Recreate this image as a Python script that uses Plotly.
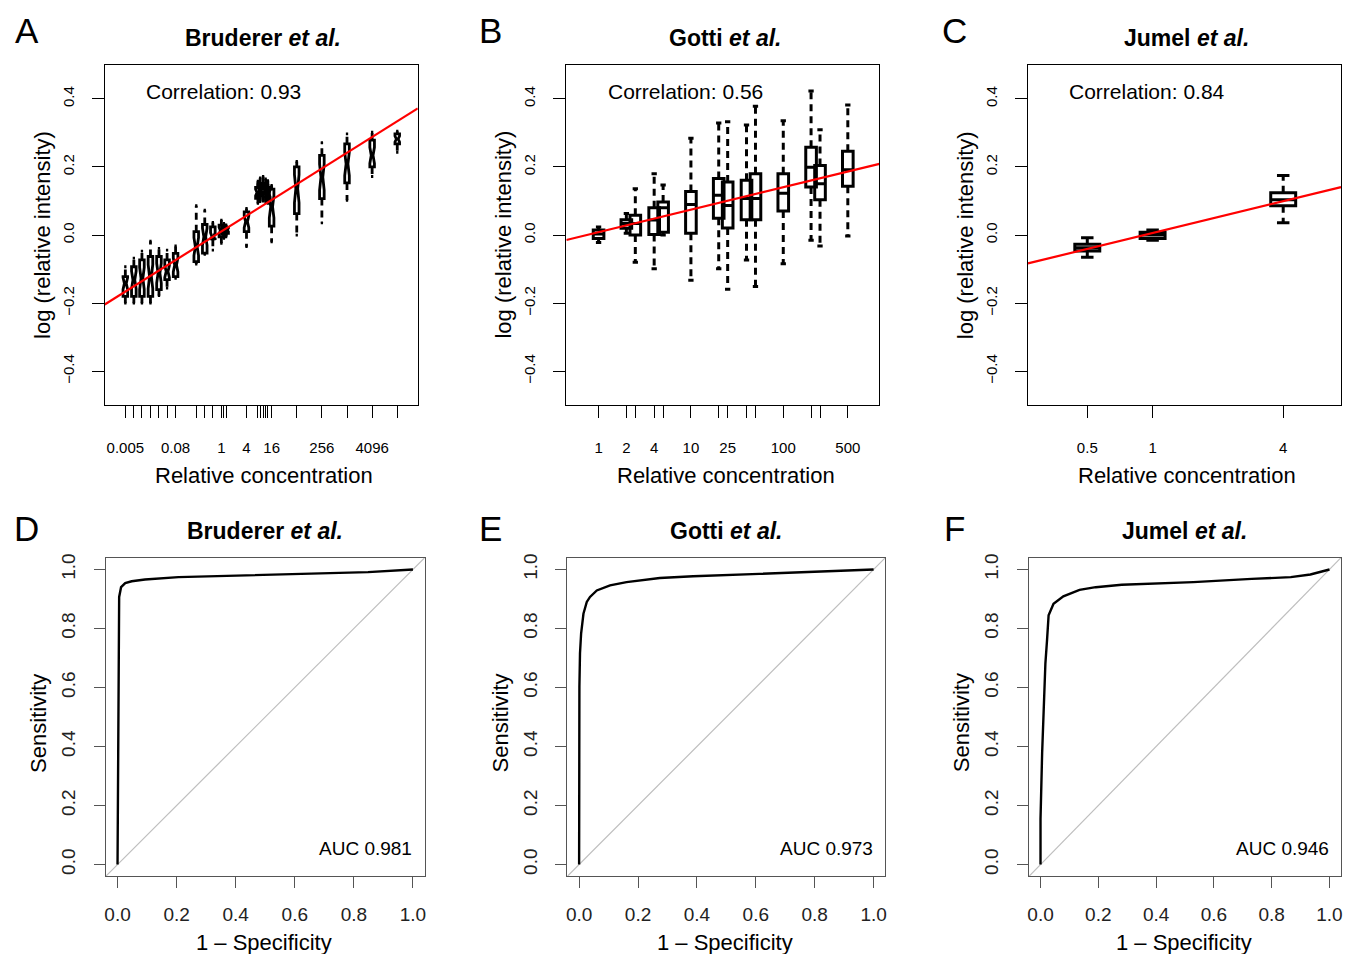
import numpy as np
import plotly.graph_objects as go

# ---------------- data ----------------
# Panel A (Bruderer et al.) : concentrations and box statistics
A_conc = [0.005, 0.008, 0.0125, 0.02, 0.032, 0.05, 0.08, 0.25, 0.4, 0.625, 1, 1.15, 1.3,
          4, 7.5, 8.5, 10, 11.5, 13, 16, 64, 256, 1024, 4096, 16384]
A_ticktext = ["0.005", "", "", "", "", "", "0.08", "", "", "", "1", "", "",
              "4", "", "", "", "", "", "16", "", "256", "", "4096", ""]
A_lw = [-0.200, -0.200, -0.200, -0.200, -0.178, -0.156, -0.127, -0.085, -0.057, -0.044, -0.024, -0.010, -0.005,
        -0.034, 0.093, 0.098, 0.100, 0.096, 0.093, -0.020, 0.000, 0.036, 0.102, 0.172, 0.243]
A_q1 = [-0.180, -0.180, -0.180, -0.180, -0.160, -0.131, -0.122, -0.078, -0.053, -0.012, -0.005, 0.003, 0.005,
        0.010, 0.108, 0.115, 0.120, 0.112, 0.105, 0.026, 0.063, 0.107, 0.153, 0.200, 0.268]
A_med = [-0.142, -0.132, -0.127, -0.122, -0.112, -0.107, -0.088, -0.034, -0.005, -0.004, 0.013, 0.015, 0.015,
         0.039, 0.125, 0.132, 0.138, 0.130, 0.122, 0.083, 0.136, 0.170, 0.209, 0.234, 0.282]
A_q3 = [-0.122, -0.093, -0.073, -0.063, -0.063, -0.073, -0.054, 0.010, 0.031, 0.024, 0.029, 0.024, 0.022,
        0.068, 0.140, 0.148, 0.152, 0.146, 0.140, 0.135, 0.200, 0.234, 0.268, 0.279, 0.297]
A_uw = [-0.093, -0.068, -0.047, -0.018, -0.039, -0.044, -0.032, 0.086, 0.073, 0.037, 0.044, 0.034, 0.030,
        0.078, 0.158, 0.168, 0.172, 0.165, 0.160, 0.146, 0.216, 0.271, 0.297, 0.302, 0.305]

# Panel B (Gotti et al.)
B_conc = [1, 2, 2.5, 4, 5, 10, 20, 25, 40, 50, 100, 200, 250, 500]
B_ticktext = ["1", "2", "", "4", "", "10", "", "25", "", "", "100", "", "", "500"]
B_lw = [-0.022, 0.005, -0.080, -0.099, 0.000, -0.133, -0.099, -0.159, -0.073, -0.151, -0.084, -0.015, -0.032, -0.003]
B_q1 = [-0.010, 0.020, 0.000, 0.002, 0.008, 0.005, 0.049, 0.021, 0.045, 0.045, 0.071, 0.141, 0.104, 0.143]
B_med = [0.003, 0.034, 0.034, 0.044, 0.080, 0.090, 0.117, 0.087, 0.107, 0.107, 0.123, 0.199, 0.151, 0.192]
B_q3 = [0.015, 0.045, 0.058, 0.080, 0.097, 0.128, 0.166, 0.156, 0.161, 0.180, 0.180, 0.258, 0.204, 0.246]
B_uw = [0.024, 0.063, 0.136, 0.180, 0.147, 0.284, 0.329, 0.333, 0.323, 0.378, 0.336, 0.423, 0.309, 0.382]

# Panel C (Jumel et al.)
C_conc = [0.5, 1, 4]
C_ticktext = ["0.5", "1", "4"]
C_lw = [-0.065, -0.015, 0.036]
C_q1 = [-0.047, -0.010, 0.086]
C_med = [-0.037, 0.000, 0.104]
C_q3 = [-0.027, 0.008, 0.124]
C_uw = [-0.008, 0.015, 0.175]

# linear fits (intercept, slope per log10 unit) and correlations
fit_intercepts = [0.0107, 0.0084, 0.006]
fit_slopes = [0.0768, 0.066, 0.1553]
correlations = ["0.93", "0.56", "0.84"]

# ROC curves
D_fpr = [0, 0.001, 0.002, 0.003, 0.0055, 0.012, 0.026, 0.048, 0.093, 0.206, 0.397, 0.623, 0.848, 1.0]
D_tpr = [0, 0.266, 0.603, 0.828, 0.907, 0.940, 0.954, 0.960, 0.966, 0.974, 0.979, 0.985, 0.991, 1.0]
E_fpr = [0, 0.0, 0.001, 0.003, 0.0068, 0.0147, 0.026, 0.037, 0.060, 0.105, 0.161, 0.274, 0.387, 0.612, 0.838, 1.0]
E_tpr = [0, 0.266, 0.603, 0.716, 0.783, 0.850, 0.890, 0.907, 0.929, 0.946, 0.957, 0.971, 0.977, 0.985, 0.993, 1.0]
F_fpr = [0, 0.0, 0.0056, 0.011, 0.0169, 0.0225, 0.028, 0.045, 0.079, 0.135, 0.191, 0.281, 0.529, 0.731, 0.866, 0.934, 1.0]
F_tpr = [0, 0.154, 0.378, 0.547, 0.682, 0.760, 0.845, 0.884, 0.909, 0.931, 0.940, 0.948, 0.957, 0.968, 0.974, 0.983, 1.0]
auc_values = ["0.981", "0.973", "0.946"]

titles = ["<b>Bruderer <i>et al.</i></b>", "<b>Gotti <i>et al.</i></b>", "<b>Jumel <i>et al.</i></b>"]
letters_top = ["A", "B", "C"]
letters_bottom = ["D", "E", "F"]

# ---------------- layout geometry ----------------
OX, OY = 8, 11            # page offset of the plot inside the browser window
W, H = 1352 - OX, 957 - OY
FONT = "Liberation Sans, Arial, Helvetica, sans-serif"
top_x_px = [(103, 417), (566, 880), (1029, 1343)]
top_y_px = (64, 406)
bot_x_px = [(104, 424), (567, 886), (1030, 1343)]
bot_y_px = (559, 879)
top_xranges = [[-2.795, 4.706], [-0.349, 3.041], [-0.5745, 0.8686]]
box_widths = [0.11, 0.115, 0.115]
box_lw = [2.8, 3.0, 3.0]


def px(x):
    return (x - OX) / W


def py(y):
    return 1 - (y - OY) / H


def xd(p):
    return [px(p[0]), px(p[1])]


def yd(p):
    return [py(p[1]), py(p[0])]


fig = go.Figure()

panels = [
    (A_conc, A_ticktext, A_lw, A_q1, A_med, A_q3, A_uw, True),
    (B_conc, B_ticktext, B_lw, B_q1, B_med, B_q3, B_uw, False),
    (C_conc, C_ticktext, C_lw, C_q1, C_med, C_q3, C_uw, False),
]

layout_axes = {}
for i, (conc, ttext, lw, q1, med, q3, uw, notched) in enumerate(panels):
    n = i + 1
    xa = "x" if n == 1 else f"x{n}"
    ya = "y" if n == 1 else f"y{n}"
    pos = np.log10(np.array(conc, dtype=float))
    w = box_widths[i]
    capw = w / 4.0
    # whiskers (dashed) and staples (solid)
    wx, wy, cx, cy = [], [], [], []
    for p, a, b, c, d in zip(pos, lw, q1, q3, uw):
        wx += [p, p, None, p, p, None]
        wy += [c, d, None, b, a, None]
        cx += [p - capw, p + capw, None, p - capw, p + capw, None]
        cy += [d, d, None, a, a, None]
    fig.add_trace(go.Scatter(x=wx, y=wy, mode="lines", xaxis=xa, yaxis=ya,
                             line=dict(color="black", width=box_lw[i], dash="7px,5px"),
                             showlegend=False, hoverinfo="skip"))
    fig.add_trace(go.Scatter(x=cx, y=cy, mode="lines", xaxis=xa, yaxis=ya,
                             line=dict(color="black", width=box_lw[i]),
                             showlegend=False, hoverinfo="skip"))
    box_kwargs = dict(
        x=pos, q1=q1, median=med, q3=q3, lowerfence=q1, upperfence=q3,
        width=w, whiskerwidth=0, orientation="v",
        line=dict(color="black", width=box_lw[i]), fillcolor="rgba(0,0,0,0)",
        boxpoints=False, xaxis=xa, yaxis=ya, showlegend=False, hoverinfo="skip",
    )
    if notched:
        box_kwargs.update(notched=True, notchwidth=0.3,
                          notchspan=[0.3 * (b - a) for a, b in zip(q1, q3)])
    fig.add_trace(go.Box(**box_kwargs))
    # regression line
    xr = top_xranges[i]
    fig.add_trace(go.Scatter(x=xr, y=[fit_intercepts[i] + fit_slopes[i] * v for v in xr],
                             mode="lines", xaxis=xa, yaxis=ya,
                             line=dict(color="#FF0000", width=2.2),
                             showlegend=False, hoverinfo="skip"))
    layout_axes["xaxis" if n == 1 else f"xaxis{n}"] = dict(
        domain=xd(top_x_px[i]), anchor=ya, range=xr, autorange=False,
        tickmode="array", tickvals=list(pos), ticktext=ttext,
        ticks="outside", ticklen=12, tickwidth=1, tickcolor="black",
        showline=True, linecolor="black", linewidth=1, mirror=True,
        showgrid=False, zeroline=False, tickangle=0,
        tickfont=dict(size=15, color="black", family=FONT), ticklabelstandoff=17,
    )
    layout_axes["yaxis" if n == 1 else f"yaxis{n}"] = dict(
        domain=yd(top_y_px), anchor=xa, range=[-0.5, 0.5], autorange=False,
        tickmode="array", tickvals=[-0.4, -0.2, 0.0, 0.2, 0.4],
        ticktext=["\u22120.4", "\u22120.2", "0.0", "0.2", "0.4"],
        ticks="outside", ticklen=12, tickwidth=1, tickcolor="black", tickangle=-90,
        showline=True, linecolor="black", linewidth=1, mirror=True,
        showgrid=False, zeroline=False,
        tickfont=dict(size=15, color="black", family=FONT), ticklabelstandoff=12,
    )

rocs = [(D_fpr, D_tpr), (E_fpr, E_tpr), (F_fpr, F_tpr)]
roc_range = [-0.04, 1.04]
for i, (fpr, tpr) in enumerate(rocs):
    n = i + 4
    xa, ya = f"x{n}", f"y{n}"
    fig.add_trace(go.Scatter(x=roc_range, y=roc_range, mode="lines", xaxis=xa, yaxis=ya,
                             line=dict(color="#BEBEBE", width=1.2),
                             showlegend=False, hoverinfo="skip"))
    fig.add_trace(go.Scatter(x=fpr, y=tpr, mode="lines", xaxis=xa, yaxis=ya,
                             line=dict(color="black", width=2.4),
                             showlegend=False, hoverinfo="skip"))
    common = dict(range=roc_range, autorange=False, tickmode="array",
                  tickvals=[0, 0.2, 0.4, 0.6, 0.8, 1.0],
                  ticktext=["0.0", "0.2", "0.4", "0.6", "0.8", "1.0"],
                  ticks="outside", ticklen=11, tickwidth=1, tickcolor="#555555",
                  showline=True, linecolor="#555555", linewidth=1, mirror=True,
                  showgrid=False, zeroline=False,
                  tickfont=dict(size=19, color="#222222", family=FONT))
    layout_axes[f"xaxis{n}"] = dict(domain=xd(bot_x_px[i]), anchor=ya, tickangle=0,
                                    ticklabelstandoff=10, **common)
    layout_axes[f"yaxis{n}"] = dict(domain=yd(bot_y_px), anchor=xa, tickangle=-90,
                                    ticklabelstandoff=11, **common)


def ann(x, y, text, size, angle=0, xanchor="center"):
    return dict(x=px(x), y=py(y), text=text, showarrow=False, textangle=angle,
                xref="paper", yref="paper", xanchor=xanchor, yanchor="middle",
                font=dict(size=size, color="black", family=FONT))


annotations = []
for i in range(3):
    tx0, tx1 = top_x_px[i]
    bx0, bx1 = bot_x_px[i]
    tc = (tx0 + tx1) / 2
    bc = (bx0 + bx1) / 2
    annotations.append(ann(tc + 2, 37, titles[i], 23))
    annotations.append(ann(bc, 532, titles[i], 23))
    lx = 25 + i * 465
    annotations.append(ann(lx, 30, letters_top[i], 35))
    annotations.append(ann(lx, 530, letters_bottom[i], 35))
    annotations.append(ann(tx0 + 119.5, 91, f"Correlation: {correlations[i]}", 21))
    annotations.append(ann(tx0 - 63, 235, "log (relative intensity)", 22, angle=-90))
    annotations.append(ann(tc + 3, 476, "Relative concentration", 22))
    annotations.append(ann(bx0 - 67, 725, "Sensitivity", 22, angle=-90))
    annotations.append(ann(bc - 1, 945, "1 \u2013 Specificity", 22))
    n = i + 4
    annotations.append(dict(x=1.005, y=0.056, xref=f"x{n}", yref=f"y{n}",
                            text=f"AUC {auc_values[i]}", showarrow=False,
                            xanchor="right", yanchor="middle",
                            font=dict(size=19, color="black", family=FONT)))

fig.update_layout(
    width=W, height=H, margin=dict(l=0, r=0, t=0, b=0),
    paper_bgcolor="white", plot_bgcolor="white",
    boxmode="overlay", showlegend=False,
    font=dict(family=FONT, color="black"),
    annotations=annotations,
    **layout_axes,
)

fig.write_html("out.html")
